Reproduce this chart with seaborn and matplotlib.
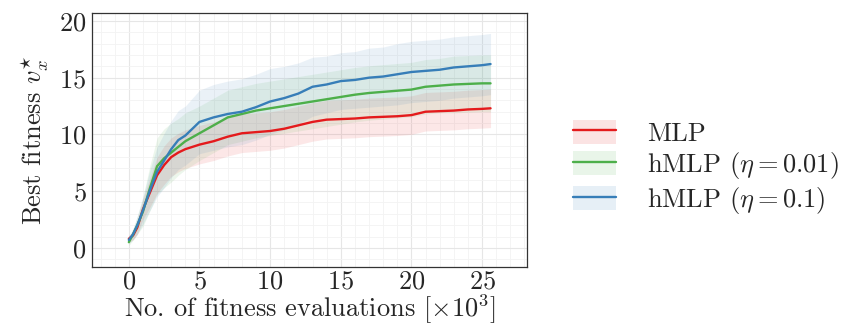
import matplotlib
matplotlib.use("Agg")
import matplotlib.pyplot as plt
import numpy as np
import pandas as pd
import seaborn as sns
from matplotlib.patches import Patch
from matplotlib.lines import Line2D
from matplotlib.ticker import MultipleLocator

# x positions (thousands of fitness evaluations)
evals = [0, 0.3, 0.6, 1, 1.5, 2, 2.5, 3, 3.5, 4, 5, 6, 7, 8, 9, 10, 11, 12, 13,
         14, 15, 16, 17, 18, 19, 20, 21, 22, 23, 24, 25, 25.6]

# mean best fitness
mlp_mean = [0.8, 1.1, 1.8, 3.4, 4.9, 6.4, 7.3, 8.0, 8.4, 8.7, 9.1, 9.4, 9.8, 10.1,
            10.2, 10.3, 10.5, 10.8, 11.1, 11.3, 11.35, 11.4, 11.5, 11.55, 11.6,
            11.7, 12.0, 12.05, 12.1, 12.2, 12.25, 12.3]
h001_mean = [0.5, 1.2, 2.0, 3.2, 5.3, 7.2, 7.9, 8.4, 8.9, 9.4, 10.1, 10.8, 11.5,
             11.8, 12.1, 12.3, 12.5, 12.7, 12.9, 13.1, 13.3, 13.5, 13.65, 13.75,
             13.85, 13.95, 14.2, 14.3, 14.4, 14.45, 14.5, 14.5]
h01_mean = [0.7, 1.2, 2.0, 3.3, 5.1, 6.7, 7.7, 8.7, 9.5, 9.9, 11.1, 11.5, 11.8,
            12.0, 12.4, 12.9, 13.2, 13.6, 14.2, 14.4, 14.7, 14.8, 15.0, 15.1,
            15.3, 15.5, 15.6, 15.7, 15.9, 16.0, 16.1, 16.2]

# spread (std) of each run group
mlp_std = [0.3, 0.4, 0.6, 0.9, 1.3, 1.6, 1.7, 1.7, 1.7, 1.7, 1.7, 1.7, 1.7, 1.7,
           1.7, 1.7, 1.7, 1.7, 1.7, 1.7, 1.7, 1.7, 1.7, 1.7, 1.7, 1.7, 1.7, 1.7,
           1.7, 1.7, 1.7, 1.7]
h001_std = [0.3, 0.5, 0.8, 1.3, 2.0, 2.5, 2.6, 2.6, 2.5, 2.5, 2.4, 2.4, 2.4, 2.4,
            2.4, 2.4, 2.4, 2.4, 2.4, 2.4, 2.4, 2.4, 2.4, 2.4, 2.4, 2.4, 2.4, 2.4,
            2.5, 2.5, 2.5, 2.5]
h01_std = [0.3, 0.5, 0.8, 1.2, 1.8, 2.2, 2.4, 2.5, 2.6, 2.6, 2.8, 2.9, 2.9, 2.9,
           2.9, 2.9, 2.8, 2.7, 2.6, 2.5, 2.5, 2.5, 2.6, 2.6, 2.7, 2.7, 2.7, 2.7,
           2.7, 2.7, 2.7, 2.7]

labels = ['MLP', r'hMLP ($\eta = 0.01$)', r'hMLP ($\eta = 0.1$)']
colors = ['#e41a1c', '#4daf4a', '#377eb8']

sns.set_style('whitegrid')
plt.rcParams['font.family'] = ['cmr10', 'DejaVu Serif']
plt.rcParams['mathtext.fontset'] = 'cm'
plt.rcParams['axes.formatter.use_mathtext'] = True
plt.rcParams['font.size'] = 19

fig = plt.figure(figsize=(8.45, 3.25), dpi=100)
ax = fig.add_axes([0.109, 0.178, 0.515, 0.782])

means = [mlp_mean, h001_mean, h01_mean]
stds = [mlp_std, h001_std, h01_std]
x = np.array(evals)
handles = []
for m, s, lab, c in zip(means, stds, labels, colors):
    m = np.array(m)
    s = np.array(s)
    ax.fill_between(x, m - s, m + s, color=c, alpha=0.1, lw=0)
    df = pd.DataFrame({'evals': x, 'fit': m})
    sns.lineplot(data=df, x='evals', y='fit', ax=ax, color=c, lw=1.7)
    handles.append((Patch(facecolor=c, alpha=0.12, edgecolor='none'),
                    Line2D([], [], color=c, lw=1.7)))

ax.set_xlim(-2.6, 28.2)
ax.set_ylim(-1.7, 20.7)
ax.set_xticks([0, 5, 10, 15, 20, 25])
ax.set_yticks([0, 5, 10, 15, 20])
ax.xaxis.set_minor_locator(MultipleLocator(1))
ax.yaxis.set_minor_locator(MultipleLocator(1))
ax.grid(which='major', color='#e6e6e6', lw=0.8)
ax.grid(which='minor', color='#f3f3f3', lw=0.6)
ax.tick_params(axis='x', length=0, pad=2)
ax.tick_params(axis='y', length=0, pad=4)
for sp in ax.spines.values():
    sp.set_color('#333333')
    sp.set_linewidth(0.9)

ax.set_xlabel(r'No. of fitness evaluations [$\times 10^3$]', labelpad=-1)
ax.set_ylabel(r'Best fitness $v_x^{\star}$', labelpad=6)

ax.legend(handles, labels, loc='center left', bbox_to_anchor=(1.106, 0.39),
          borderaxespad=0, borderpad=0,
          frameon=False, handlelength=1.6, handleheight=1.0, handletextpad=1.2,
          labelspacing=0.16, fontsize=19)

fig.savefig('out.png', dpi=100)
